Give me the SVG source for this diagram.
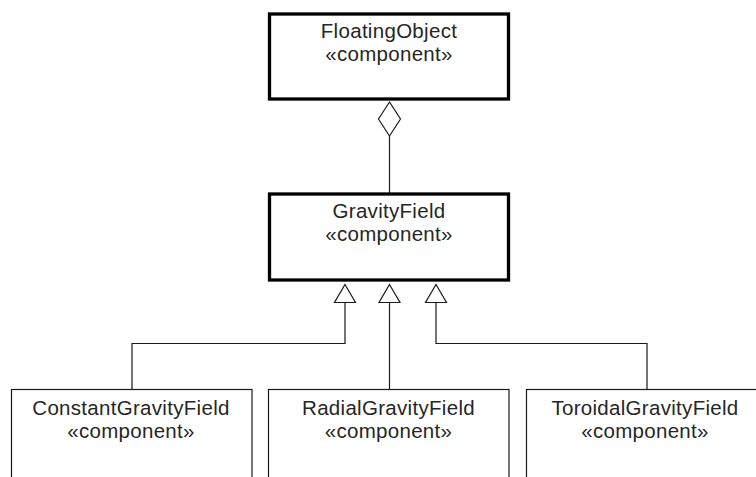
<svg xmlns="http://www.w3.org/2000/svg" width="756" height="477" viewBox="0 0 756 477">
<style>
.bg{fill:#ffffff}
.main{fill:#ffffff;stroke:#000000;stroke-width:3.3}
.sub{fill:#ffffff;stroke:#1a1a1a;stroke-width:1.2}
.lbl{font-family:"Liberation Sans",Arial,sans-serif;font-size:20.5px;letter-spacing:0.3px;fill:#262626;text-anchor:middle}
.edge{fill:none;stroke:#1a1a1a;stroke-width:1.2}
.head{fill:#ffffff;stroke:#1a1a1a;stroke-width:1.2}
</style>
<rect class="bg" x="0" y="0" width="756" height="477"/>
<g id="connectors">
  <line class="edge" x1="389.5" y1="136" x2="389.5" y2="194"/>
  <polygon class="head" points="389.5,102 400.5,119 389.5,136 378.5,119"/>
  <polyline class="edge" points="345,302.5 345,343.5 132,343.5 132,389"/>
  <polygon class="head" points="345,284.5 355.5,302.5 334.5,302.5"/>
  <line class="edge" x1="389.5" y1="302.5" x2="389.5" y2="389"/>
  <polygon class="head" points="389.5,284.5 400,302.5 379,302.5"/>
  <polyline class="edge" points="436,302.5 436,343.5 647,343.5 647,389"/>
  <polygon class="head" points="436,284.5 446.5,302.5 425.5,302.5"/>
</g>
<g id="FloatingObject">
  <rect class="main" x="269.5" y="14" width="239" height="85"/>
  <text class="lbl" x="389" y="38">FloatingObject</text>
  <text class="lbl" x="389" y="61">«component»</text>
</g>
<g id="GravityField">
  <rect class="main" x="269.5" y="194" width="239" height="86"/>
  <text class="lbl" x="389" y="218">GravityField</text>
  <text class="lbl" x="389" y="241">«component»</text>
</g>
<g id="ConstantGravityField">
  <rect class="sub" x="11.5" y="389.5" width="240.5" height="100"/>
  <text class="lbl" x="131" y="415">ConstantGravityField</text>
  <text class="lbl" x="131" y="438">«component»</text>
</g>
<g id="RadialGravityField">
  <rect class="sub" x="268.5" y="389.5" width="240.5" height="100"/>
  <text class="lbl" x="388.5" y="415">RadialGravityField</text>
  <text class="lbl" x="388.5" y="438">«component»</text>
</g>
<g id="ToroidalGravityField">
  <rect class="sub" x="526.5" y="389.5" width="240.5" height="100"/>
  <text class="lbl" x="645" y="415">ToroidalGravityField</text>
  <text class="lbl" x="645" y="438">«component»</text>
</g>
</svg>
